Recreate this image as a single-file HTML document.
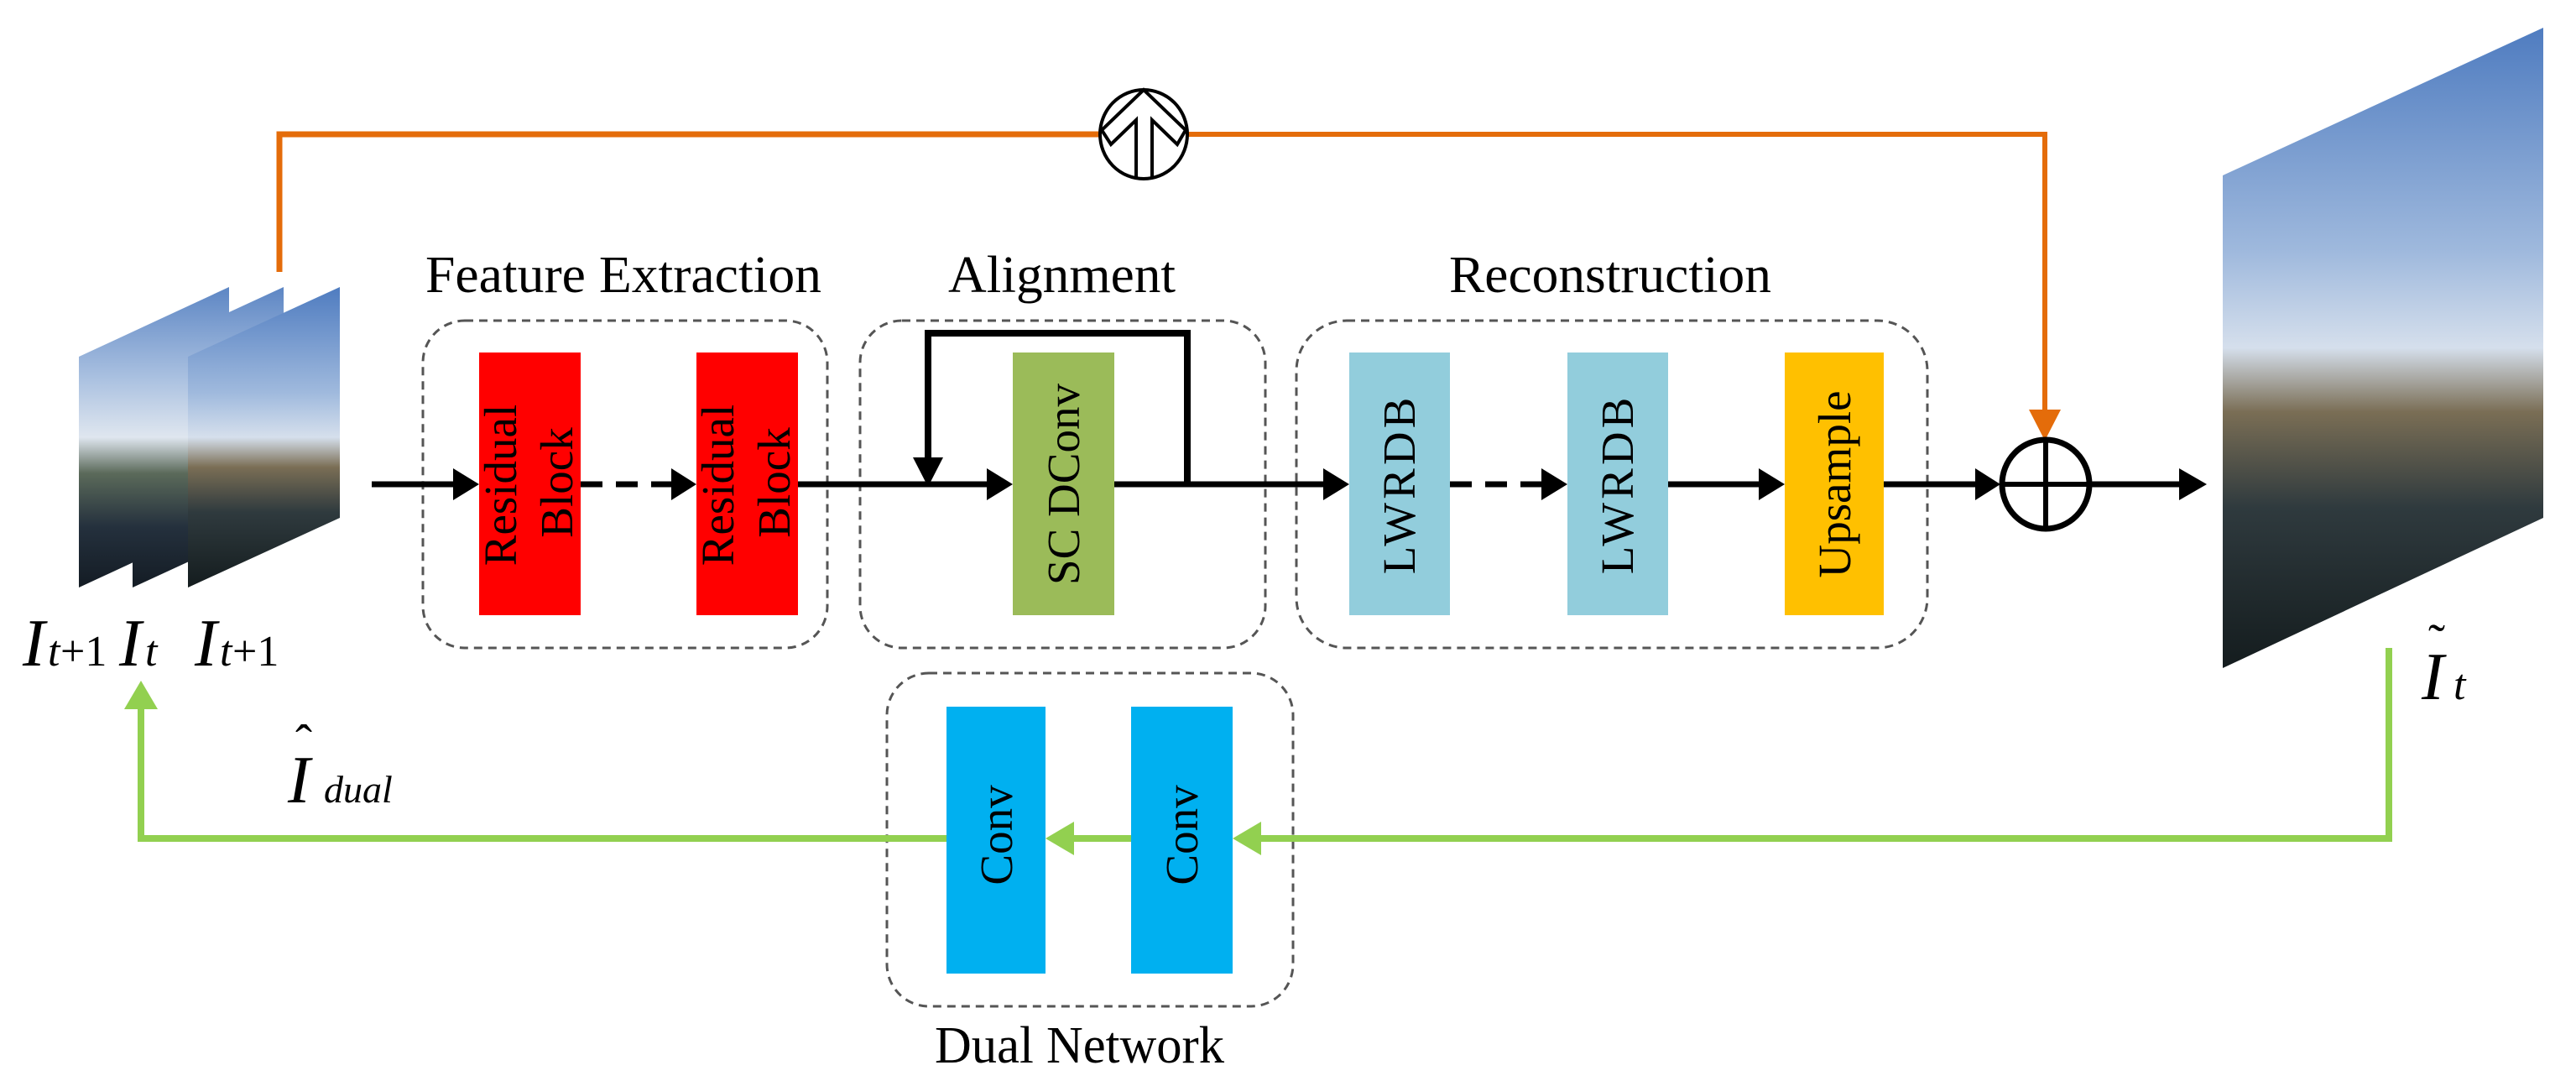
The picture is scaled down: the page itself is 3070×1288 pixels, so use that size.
<!DOCTYPE html>
<html><head><meta charset="utf-8"><style>
html,body{margin:0;padding:0;background:#fff;}
svg{display:block;}
text{font-family:"Liberation Serif",serif;fill:#000;}
</style></head><body>
<svg width="3070" height="1288" viewBox="0 0 3070 1288" xmlns="http://www.w3.org/2000/svg">
<defs>
<linearGradient id="sky" x1="0" y1="0" x2="0" y2="1">
<stop offset="0" stop-color="#5d86c4"/>
<stop offset="0.3" stop-color="#a9c0e0"/>
<stop offset="0.5" stop-color="#dfe6ef"/>
<stop offset="0.62" stop-color="#5b6a5a"/>
<stop offset="0.8" stop-color="#24303d"/>
<stop offset="1" stop-color="#141c24"/>
</linearGradient>
<linearGradient id="sky2" x1="0" y1="0" x2="0" y2="1">
<stop offset="0" stop-color="#4f7cc0"/>
<stop offset="0.35" stop-color="#9fb9dd"/>
<stop offset="0.5" stop-color="#d5dfec"/>
<stop offset="0.6" stop-color="#7a6e55"/>
<stop offset="0.75" stop-color="#2f3a3e"/>
<stop offset="1" stop-color="#141c1e"/>
</linearGradient>
</defs>

<!-- input frames -->
<polygon points="94,425 273,342 273,617 94,700" fill="url(#sky)"/>
<polygon points="158,425 338,342 338,617 158,700" fill="url(#sky)"/>
<polygon points="224,425 405,342 405,617 224,700" fill="url(#sky2)"/>

<!-- output frame -->
<polygon points="2649,209 3031,33 3031,617 2649,796" fill="url(#sky2)"/>

<!-- orange skip path -->
<polyline points="333,324 333,160 1310,160" fill="none" stroke="#e46c0a" stroke-width="7"/>
<polyline points="1416,160 2437,160 2437,495" fill="none" stroke="#e46c0a" stroke-width="6"/>
<polygon points="2418,488 2456,488 2437,525" fill="#e46c0a"/>
<ellipse cx="1363" cy="160" rx="52" ry="53" fill="#fff" stroke="#000" stroke-width="4"/>
<polyline points="1354,212 1354,143 1324,172 1313,155 1363,107 1413,155 1403,172 1373,143 1373,212" fill="none" stroke="#000" stroke-width="4"/>

<!-- section labels -->
<text x="507" y="348" font-size="62" textLength="472" lengthAdjust="spacingAndGlyphs">Feature Extraction</text>
<text x="1130" y="348" font-size="62" textLength="271" lengthAdjust="spacingAndGlyphs">Alignment</text>
<text x="1727" y="348" font-size="62" textLength="384" lengthAdjust="spacingAndGlyphs">Reconstruction</text>

<!-- dashed group boxes -->
<g fill="none" stroke="#555" stroke-width="3" stroke-dasharray="10,7">
<rect x="504" y="382" width="482" height="390" rx="50"/>
<rect x="1025" y="382" width="483" height="390" rx="50"/>
<rect x="1545" y="382" width="752" height="390" rx="60"/>
<rect x="1057" y="802" width="484" height="397" rx="50"/>
</g>

<!-- blocks -->
<rect x="571" y="420" width="121" height="313" fill="#ff0000"/>
<rect x="830" y="420" width="121" height="313" fill="#ff0000"/>
<rect x="1207" y="420" width="121" height="313" fill="#9bbb59"/>
<rect x="1608" y="420" width="120" height="313" fill="#92cddc"/>
<rect x="1868" y="420" width="120" height="313" fill="#92cddc"/>
<rect x="2127" y="420" width="118" height="313" fill="#ffc000"/>
<rect x="1128" y="842" width="118" height="318" fill="#00b0f0"/>
<rect x="1348" y="842" width="121" height="318" fill="#00b0f0"/>

<!-- block text -->
<g font-size="55" text-anchor="middle">
<text transform="translate(615,578) rotate(-90)">Residual</text>
<text transform="translate(682,575) rotate(-90)">Block</text>
<text transform="translate(874,578) rotate(-90)">Residual</text>
<text transform="translate(941,575) rotate(-90)">Block</text>
<text transform="translate(1286,577) rotate(-90)">SC DConv</text>
<text transform="translate(1686,577) rotate(-90)" letter-spacing="4">LWRDB</text>
<text transform="translate(1946,577) rotate(-90)" letter-spacing="4">LWRDB</text>
<text transform="translate(2205,577) rotate(-90)">Upsample</text>
<text transform="translate(1206,995) rotate(-90)">Conv</text>
<text transform="translate(1427,995) rotate(-90)">Conv</text>
</g>

<!-- main black flow -->
<g stroke="#000" stroke-width="7" fill="none">
<line x1="443" y1="577" x2="550" y2="577"/>
<line x1="692" y1="577" x2="810" y2="577" stroke-dasharray="26,16"/>
<line x1="951" y1="577" x2="1185" y2="577"/>
<line x1="1328" y1="577" x2="1580" y2="577"/>
<line x1="1728" y1="577" x2="1845" y2="577" stroke-dasharray="26,16"/>
<line x1="1988" y1="577" x2="2105" y2="577"/>
<line x1="2245" y1="577" x2="2365" y2="577"/>
<line x1="2490" y1="577" x2="2610" y2="577"/>
<polyline points="1415,577 1415,397 1106,397 1106,548" stroke-width="8"/>
</g>
<g fill="#000">
<polygon points="540,558 571,577 540,596"/>
<polygon points="800,558 830,577 800,596"/>
<polygon points="1176,558 1207,577 1176,596"/>
<polygon points="1088,545 1124,545 1106,580"/>
<polygon points="1577,558 1608,577 1577,596"/>
<polygon points="1837,558 1868,577 1837,596"/>
<polygon points="2096,558 2127,577 2096,596"/>
<polygon points="2354,558 2384,577 2354,596"/>
<polygon points="2597,558 2630,577 2597,596"/>
</g>
<ellipse cx="2438" cy="577" rx="52" ry="53" fill="none" stroke="#000" stroke-width="7"/>
<line x1="2438" y1="524" x2="2438" y2="630" stroke="#000" stroke-width="6"/>
<line x1="2386" y1="577" x2="2490" y2="577" stroke="#000" stroke-width="6"/>

<!-- green dual path -->
<g stroke="#92d050" stroke-width="8" fill="none">
<polyline points="2847,772 2847,999 1500,999"/>
<line x1="1348" y1="999" x2="1280" y2="999"/>
<polyline points="1128,999 168,999 168,840"/>
</g>
<g fill="#92d050">
<polygon points="1469,999 1503,979 1503,1019"/>
<polygon points="1246,999 1280,979 1280,1019"/>
<polygon points="168,811 148,845 188,845"/>
</g>

<!-- math labels -->
<g font-style="italic">
<text x="27" y="793" font-size="80">I</text><text x="57" y="793" font-size="52">t</text><text x="72" y="793" font-size="52" font-style="normal">+1</text>
<text x="142" y="793" font-size="80">I</text><text x="173" y="793" font-size="52">t</text>
<text x="232" y="793" font-size="80">I</text><text x="262" y="793" font-size="52">t</text><text x="277" y="793" font-size="52" font-style="normal">+1</text>
<text x="343" y="956" font-size="80">I</text><text x="386" y="956" font-size="46">dual</text>
<text x="2886" y="833" font-size="80">I</text><text x="2924" y="833" font-size="52">t</text>
</g>
<text x="352" y="905" font-size="60">ˆ</text>
<text x="2894" y="785" font-size="60">˜</text>

<text x="1114" y="1266" font-size="62" textLength="345" lengthAdjust="spacingAndGlyphs">Dual Network</text>
</svg>
</body></html>
